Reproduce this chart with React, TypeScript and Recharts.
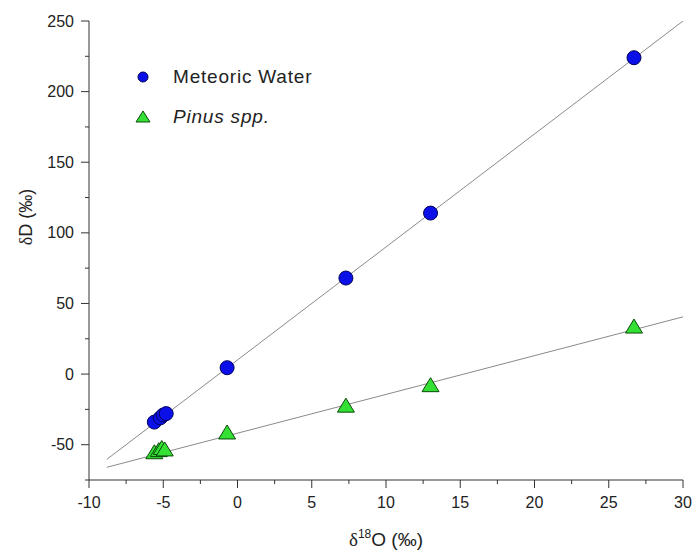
import React from 'react';
import { ScatterChart, Scatter, XAxis, YAxis } from 'recharts';

// valores
const meteoricX = [-5.6, -5.2, -5.0, -4.8, -0.7, 7.3, 13.0, 26.7];
const meteoricY = [-34, -31, -29, -28, 4.5, 68, 114, 224];
const pinusX = [-5.6, -5.3, -5.1, -4.9, -0.7, 7.3, 13.0, 26.7];
const pinusY = [-55, -53.5, -52, -53, -41, -22, -7.5, 34];

// retas de regressão (extremos)
const meteoricLineX = [-8.8, 30];
const meteoricLineY = [-60.4, 250];
const pinusLineX = [-8.8, 30];
const pinusLineY = [-66, 40.5];

const xTicks = [-10, -7.5, -5, -2.5, 0, 2.5, 5, 7.5, 10, 12.5, 15, 17.5, 20, 22.5, 25, 27.5, 30];
const xMajor = [-10, -5, 0, 5, 10, 15, 20, 25, 30];
const yTicks = [-75, -50, -25, 0, 25, 50, 75, 100, 125, 150, 175, 200, 225, 250];
const yMajor = [-50, 0, 50, 100, 150, 200, 250];

const toPoints = (xs: number[], ys: number[]) => xs.map((x, i) => ({ x, y: ys[i] }));

const meteoric = toPoints(meteoricX, meteoricY);
const pinus = toPoints(pinusX, pinusY);
const meteoricLine = toPoints(meteoricLineX, meteoricLineY);
const pinusLine = toPoints(pinusLineX, pinusLineY);

const FONT = '"Liberation Sans", Arial, sans-serif';
const BLUE = '#0c10e8';
const BLUE_EDGE = '#00005a';
const GREEN = '#33e033';
const GREEN_EDGE = '#0b4a0b';

const Circle = (props: any) => (
  <circle cx={props.cx} cy={props.cy} r={7} fill={BLUE} stroke={BLUE_EDGE} strokeWidth={1} />
);

const Triangle = (props: any) => {
  const { cx, cy } = props;
  return (
    <polygon
      points={`${cx},${cy - 7} ${cx - 8.5},${cy + 7} ${cx + 8.5},${cy + 7}`}
      fill={GREEN}
      stroke={GREEN_EDGE}
      strokeWidth={1}
    />
  );
};

const XTick = (props: any) => {
  const { x, y, payload } = props;
  const major = xMajor.includes(payload.value);
  return (
    <g>
      <line x1={x} x2={x} y1={y} y2={y + (major ? 8 : 4)} stroke="#333" />
      {major && (
        <text x={x} y={y + 28} textAnchor="middle" fontSize={16} fontFamily={FONT} fill="#222">
          {payload.value}
        </text>
      )}
    </g>
  );
};

const YTick = (props: any) => {
  const { x, y, payload } = props;
  const major = yMajor.includes(payload.value);
  return (
    <g>
      <line x1={x} x2={x - (major ? 8 : 4)} y1={y} y2={y} stroke="#333" />
      {major && (
        <text x={x - 15} y={y + 5.5} textAnchor="end" fontSize={16} fontFamily={FONT} fill="#222">
          {payload.value}
        </text>
      )}
    </g>
  );
};

const XLabel = (props: any) => {
  const { viewBox } = props;
  const cx = viewBox.x + viewBox.width / 2;
  return (
    <text x={cx} y={viewBox.y + 66} textAnchor="middle" fontSize={19} fontFamily={FONT} fill="#222">
      <tspan fontFamily='"Liberation Serif", serif'>δ</tspan>
      <tspan fontSize={12} dy={-8}>18</tspan>
      <tspan dy={8}>O (‰)</tspan>
    </text>
  );
};

const YLabel = () => (
  <text
    x={0}
    y={0}
    transform="translate(32, 217) rotate(-90)"
    textAnchor="middle"
    fontSize={18}
    fontFamily={FONT}
    fill="#222"
  >
    <tspan fontFamily='"Liberation Serif", serif'>δ</tspan>
    <tspan>D (‰)</tspan>
  </text>
);

const LegendBox = () => (
  <div
    style={{
      position: 'absolute',
      left: 134,
      top: 57,
      fontFamily: FONT,
      fontSize: 19,
      letterSpacing: 0.8,
      color: '#222',
    }}
  >
    <div style={{ display: 'flex', alignItems: 'center', height: 40 }}>
      <svg width={18} height={18}>
        <circle cx={9} cy={9} r={5} fill={BLUE} stroke={BLUE_EDGE} />
      </svg>
      <span style={{ marginLeft: 21 }}>Meteoric Water</span>
    </div>
    <div style={{ display: 'flex', alignItems: 'center', height: 40 }}>
      <svg width={18} height={18}>
        <polygon points="9,3 2,14 16,14" fill={GREEN} stroke={GREEN_EDGE} />
      </svg>
      <span style={{ marginLeft: 21, fontStyle: 'italic' }}>Pinus spp.</span>
    </div>
  </div>
);

export default function App() {
  return (
    <div style={{ position: 'relative', width: 695, height: 550 }}>
      <style>{'body { margin: 0; overflow: hidden; }'}</style>
      <ScatterChart width={695} height={550} margin={{ top: 21, right: 12, left: 0, bottom: 0 }}>
        <XAxis
          type="number"
          dataKey="x"
          domain={[-10, 30]}
          ticks={xTicks}
          interval={0}
          tickSize={0}
          tickMargin={0}
          tickLine={false}
          tick={<XTick />}
          axisLine={{ stroke: '#333' }}
          height={70}
          allowDataOverflow
          label={{ content: <XLabel /> }}
        />
        <YAxis
          type="number"
          dataKey="y"
          domain={[-75, 250]}
          ticks={yTicks}
          interval={0}
          tickSize={0}
          tickMargin={0}
          tickLine={false}
          tick={<YTick />}
          axisLine={{ stroke: '#333' }}
          width={89}
          allowDataOverflow
          label={{ content: <YLabel /> }}
        />
        <Scatter data={meteoricLine} line={{ stroke: '#8a8a8a', strokeWidth: 1 }} shape={() => <g />} isAnimationActive={false} legendType="none" />
        <Scatter data={pinusLine} line={{ stroke: '#8a8a8a', strokeWidth: 1 }} shape={() => <g />} isAnimationActive={false} legendType="none" />
        <Scatter name="Meteoric Water" data={meteoric} shape={<Circle />} isAnimationActive={false} />
        <Scatter name="Pinus spp." data={pinus} shape={<Triangle />} isAnimationActive={false} />
      </ScatterChart>
      <LegendBox />
    </div>
  );
}
